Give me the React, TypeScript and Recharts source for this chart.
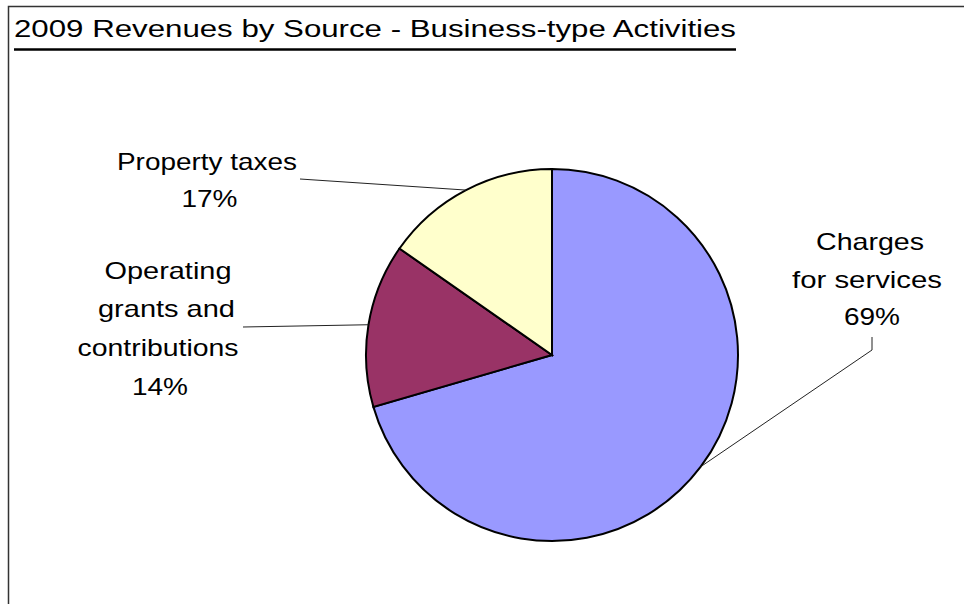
import { PieChart, Pie, Cell } from "recharts";

// slice sizes as drawn (printed percentages kept separately below)
const categories = ["Charges for services", "Operating grants and contributions", "Property taxes"];
const shares = [70.5, 14.2, 15.3];
const printedPercents = ["69%", "14%", "17%"];
const labelLines = [
  ["Charges", "for services"],
  ["Operating", "grants and", "contributions"],
  ["Property taxes"],
];
const title = "2009 Revenues by Source - Business-type Activities";

const colors = ["#9999FF", "#993366", "#FFFFCC"];
const FONT = "'Liberation Sans', Arial, sans-serif";
const RAD = Math.PI / 180;

// where each label sits and how its leader line bends (x, baseline, text width)
const labelLayout = [
  {
    lines: [
      { x: 870, y: 250, w: 108 },
      { x: 867, y: 287.5, w: 150 },
      { x: 872, y: 325, w: 56 },
    ],
    leader: [[872, 337], [872, 350]],
  },
  {
    lines: [
      { x: 168, y: 279, w: 127 },
      { x: 166.5, y: 317, w: 137 },
      { x: 158, y: 356, w: 161 },
      { x: 160, y: 394.5, w: 56 },
    ],
    leader: [[243, 327]],
  },
  {
    lines: [
      { x: 207, y: 170, w: 180 },
      { x: 209.5, y: 207, w: 56 },
    ],
    leader: [[300, 179]],
  },
];

const data = categories.map((name, i) => ({ name, value: shares[i] }));

function SliceLabel(props: any) {
  const { cx, cy, midAngle, outerRadius, index } = props;
  const layout = labelLayout[index];
  const ex = cx + outerRadius * Math.cos(-midAngle * RAD);
  const ey = cy + outerRadius * Math.sin(-midAngle * RAD);
  const pts = [...layout.leader, [ex, ey]].map((p) => p.join(",")).join(" ");
  const texts = [...labelLines[index], printedPercents[index]];
  return (
    <g>
      <polyline points={pts} fill="none" stroke="#222" strokeWidth={1} />
      {texts.map((t, i) => (
        <text
          key={i}
          x={layout.lines[i].x}
          y={layout.lines[i].y}
          textAnchor="middle"
          textLength={layout.lines[i].w}
          lengthAdjust="spacingAndGlyphs"
          fontFamily={FONT}
          fontSize={24}
          fill="#000"
        >
          {t}
        </text>
      ))}
    </g>
  );
}

export default function App() {
  // fixed to the viewport so the frame lines at the very edge are not cut off
  return (
    <div style={{ position: "fixed", left: 0, top: 0, width: 964, height: 604, background: "#fff" }}>
      <svg width={964} height={604} style={{ position: "absolute", left: 0, top: 0 }}>
        <path d="M8.5,604 L8.5,6.5 L964,6.5" fill="none" stroke="#333" strokeWidth={1.5} />
        <text x={14} y={37} textLength={722} lengthAdjust="spacingAndGlyphs" fontFamily={FONT} fontSize={23.5} fill="#000">
          {title}
        </text>
        <line x1={14} y1={49.5} x2={736} y2={49.5} stroke="#000" strokeWidth={2.5} />
      </svg>
      <div style={{ position: "absolute", left: 0, top: 0 }}>
        <PieChart width={964} height={604} margin={{ top: 0, right: 0, bottom: 0, left: 0 }}>
          <Pie
            data={data}
            dataKey="value"
            nameKey="name"
            cx={552}
            cy={355}
            outerRadius={186}
            startAngle={90}
            endAngle={-270}
            stroke="#000"
            strokeWidth={2}
            label={SliceLabel}
            labelLine={false}
            isAnimationActive={false}
          >
            {data.map((d, i) => (
              <Cell key={d.name} fill={colors[i]} />
            ))}
          </Pie>
        </PieChart>
      </div>
    </div>
  );
}
